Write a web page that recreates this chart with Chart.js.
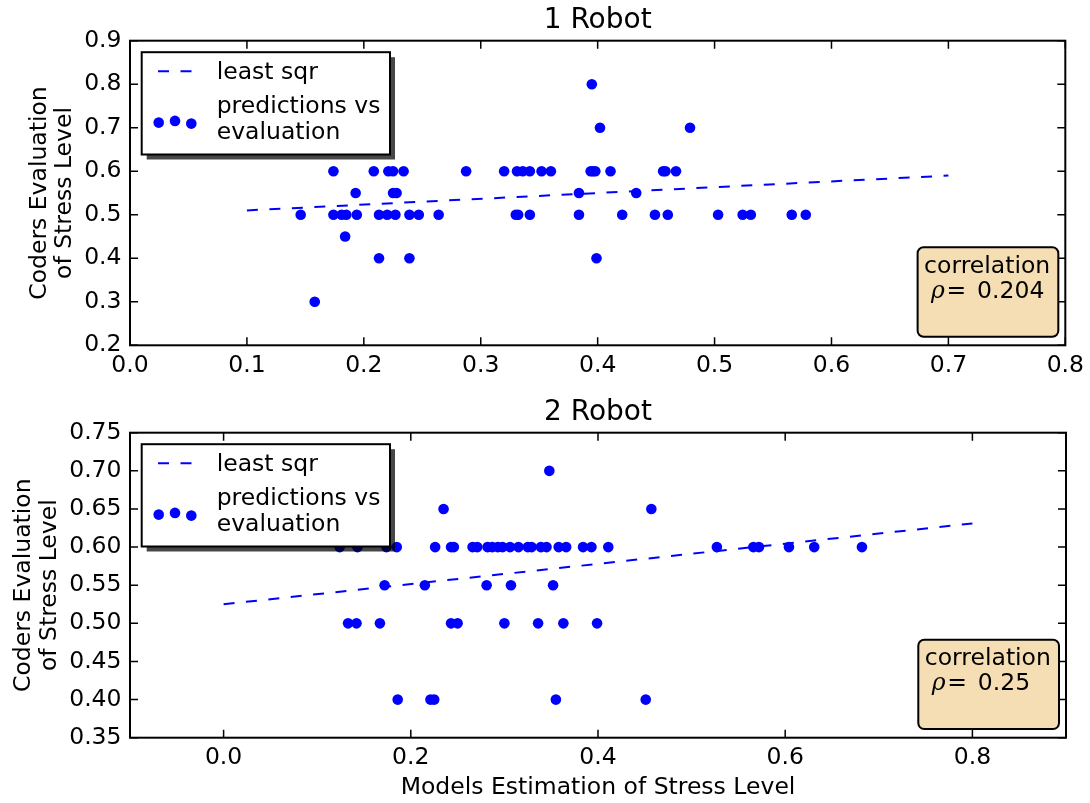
<!DOCTYPE html>
<html>
<head>
<meta charset="utf-8">
<script src="https://cdn.jsdelivr.net/npm/chart.js@4.4.1/dist/chart.umd.min.js"></script>
<style>
  html, body { margin: 0; padding: 0; background: #fff; }
  #wrap { position: relative; width: 1090px; height: 803px; background: #fff; }
  #c1 { position: absolute; left: 0; top: 0; }
  #c2 { position: absolute; left: 0; top: 392px; }
</style>
</head>
<body>
<div id="wrap">
  <canvas id="c1" width="1090" height="392"></canvas>
  <canvas id="c2" width="1090" height="411"></canvas>
</div>
<script>
// ---- Robot 1: model estimate (x) vs coders' evaluation (y) ----
const robot1X = [
  0.395,
  0.402, 0.479,
  0.174, 0.2085, 0.221, 0.225, 0.234, 0.2875, 0.320, 0.331, 0.336, 0.342, 0.352, 0.360, 0.394, 0.396, 0.398, 0.411, 0.456, 0.458, 0.467,
  0.193, 0.225, 0.228, 0.384, 0.433,
  0.146, 0.174, 0.181, 0.185, 0.194, 0.213, 0.220, 0.227, 0.239, 0.247, 0.264, 0.330, 0.332, 0.342, 0.384, 0.421, 0.449, 0.460, 0.503, 0.524, 0.531, 0.566, 0.578,
  0.184,
  0.213, 0.239, 0.399,
  0.158
];
const robot1Y = [
  0.8,
  0.7, 0.7,
  0.6, 0.6, 0.6, 0.6, 0.6, 0.6, 0.6, 0.6, 0.6, 0.6, 0.6, 0.6, 0.6, 0.6, 0.6, 0.6, 0.6, 0.6, 0.6,
  0.55, 0.55, 0.55, 0.55, 0.55,
  0.5, 0.5, 0.5, 0.5, 0.5, 0.5, 0.5, 0.5, 0.5, 0.5, 0.5, 0.5, 0.5, 0.5, 0.5, 0.5, 0.5, 0.5, 0.5, 0.5, 0.5, 0.5, 0.5,
  0.45,
  0.4, 0.4, 0.4,
  0.3
];
const robot1FitX = [0.1, 0.7];
const robot1FitY = [0.510, 0.590];
const robot1Rho = '0.204';
const robot1XTicks = [0.0, 0.1, 0.2, 0.3, 0.4, 0.5, 0.6, 0.7, 0.8];
const robot1YTicks = [0.2, 0.3, 0.4, 0.5, 0.6, 0.7, 0.8, 0.9];

// ---- Robot 2 ----
const robot2X = [
  0.348,
  0.235, 0.457,
  0.124, 0.143, 0.174, 0.185, 0.226, 0.243, 0.246, 0.266, 0.271, 0.282, 0.287, 0.293, 0.298, 0.306, 0.315, 0.325, 0.329, 0.339, 0.345, 0.358, 0.366, 0.384, 0.393, 0.411, 0.527, 0.566, 0.572, 0.604, 0.631, 0.682,
  0.172, 0.215, 0.281, 0.307, 0.352,
  0.133, 0.142, 0.167, 0.243, 0.250, 0.300, 0.336, 0.363, 0.399,
  0.186, 0.221, 0.225, 0.355, 0.451
];
const robot2Y = [
  0.7,
  0.65, 0.65,
  0.6, 0.6, 0.6, 0.6, 0.6, 0.6, 0.6, 0.6, 0.6, 0.6, 0.6, 0.6, 0.6, 0.6, 0.6, 0.6, 0.6, 0.6, 0.6, 0.6, 0.6, 0.6, 0.6, 0.6, 0.6, 0.6, 0.6, 0.6, 0.6, 0.6,
  0.55, 0.55, 0.55, 0.55, 0.55,
  0.5, 0.5, 0.5, 0.5, 0.5, 0.5, 0.5, 0.5, 0.5,
  0.4, 0.4, 0.4, 0.4, 0.4
];
const robot2FitX = [0.0, 0.8];
const robot2FitY = [0.525, 0.631];
const robot2Rho = '0.25';
const robot2XTicks = [0.0, 0.2, 0.4, 0.6, 0.8];
const robot2YTicks = [0.35, 0.40, 0.45, 0.50, 0.55, 0.60, 0.65, 0.70, 0.75];

const BLUE = '#0000ff';
const FONT = 'DejaVu Sans';
const FS = 23.5;
Chart.defaults.font.family = FONT;
Chart.defaults.font.size = FS;
Chart.defaults.color = '#000';

const toPoints = (xs, ys) => xs.map((x, i) => ({ x: x, y: ys[i] }));

// Frame, inward ticks, shadowed legend and the correlation box
const decor = {
  id: 'decor',
  beforeDraw(chart) {
    const ctx = chart.ctx;
    ctx.save();
    ctx.fillStyle = '#fff';
    ctx.fillRect(0, 0, chart.width, chart.height);
    ctx.restore();
  },
  afterDraw(chart, args, opts) {
    const ctx = chart.ctx;
    const a = chart.chartArea;
    const xs = chart.scales.x, ys = chart.scales.y;
    ctx.save();

    // inward tick marks on all four sides
    ctx.strokeStyle = '#000';
    ctx.lineWidth = 1.5;
    ctx.beginPath();
    xs.ticks.forEach(t => {
      const px = xs.getPixelForValue(t.value);
      ctx.moveTo(px, a.bottom); ctx.lineTo(px, a.bottom - 8);
      ctx.moveTo(px, a.top); ctx.lineTo(px, a.top + 8);
    });
    ys.ticks.forEach(t => {
      const py = ys.getPixelForValue(t.value);
      ctx.moveTo(a.left, py); ctx.lineTo(a.left + 8, py);
      ctx.moveTo(a.right, py); ctx.lineTo(a.right - 8, py);
    });
    ctx.stroke();

    // axes frame
    ctx.lineWidth = 2;
    ctx.strokeRect(a.left, a.top, a.right - a.left, a.bottom - a.top);

    // legend with drop shadow
    const lx = a.left + 11.7, ly = a.top + 11.5, lw = 248.3, lh = 102.3;
    ctx.fillStyle = 'rgba(0,0,0,0.72)';
    ctx.fillRect(lx + 5, ly + 5, lw, lh);
    ctx.fillStyle = '#fff';
    ctx.fillRect(lx, ly, lw, lh);
    ctx.strokeStyle = '#000';
    ctx.lineWidth = 2;
    ctx.strokeRect(lx, ly, lw, lh);

    ctx.strokeStyle = BLUE;
    ctx.lineWidth = 2;
    ctx.setLineDash([11, 11.5]);
    ctx.beginPath();
    ctx.moveTo(lx + 16.3, ly + 19);
    ctx.lineTo(lx + 50.3, ly + 19);
    ctx.stroke();
    ctx.setLineDash([]);

    ctx.fillStyle = BLUE;
    [[17, 70.4], [33.3, 68.7], [49.6, 71.4]].forEach(([dx, dy]) => {
      ctx.beginPath();
      ctx.arc(lx + dx, ly + dy, 5.3, 0, Math.PI * 2);
      ctx.fill();
    });

    ctx.fillStyle = '#000';
    ctx.font = FS + 'px "' + FONT + '"';
    ctx.textAlign = 'left';
    ctx.textBaseline = 'alphabetic';
    ctx.fillText('least sqr', lx + 75, ly + 27);
    ctx.fillText('predictions vs', lx + 75, ly + 60.4);
    ctx.fillText('evaluation', lx + 75, ly + 87);

    // correlation annotation
    const bw = 140.7, bh = 89.4;
    const bx = a.right - 7 - bw, by = a.bottom - 98;
    ctx.beginPath();
    ctx.roundRect(bx, by, bw, bh, 6);
    ctx.fillStyle = '#f5deb3';
    ctx.fill();
    ctx.strokeStyle = '#000';
    ctx.lineWidth = 2;
    ctx.stroke();

    ctx.fillStyle = '#000';
    ctx.font = FS + 'px "' + FONT + '"';
    ctx.fillText('correlation', bx + 6.5, by + 25.4);
    ctx.font = 'italic ' + FS + 'px "DejaVu Serif"';
    ctx.fillText('\u03c1', bx + 13.5, by + 50.7);
    ctx.font = FS + 'px "DejaVu Serif"';
    ctx.fillText('=', bx + 29, by + 50.7);
    ctx.font = FS + 'px "' + FONT + '"';
    ctx.fillText(opts.rho, bx + 59.5, by + 50.7);

    ctx.restore();
  }
};

function makeChart(id, cfg) {
  return new Chart(document.getElementById(id), {
    type: 'scatter',
    data: {
      datasets: [
        {
          label: 'least sqr',
          data: toPoints(cfg.fitX, cfg.fitY),
          showLine: true,
          borderColor: BLUE,
          borderWidth: 2,
          borderDash: [11, 11.5],
          pointRadius: 0,
          fill: false
        },
        {
          label: 'predictions vs evaluation',
          data: toPoints(cfg.x, cfg.y),
          pointRadius: 5.3,
          pointBackgroundColor: BLUE,
          pointBorderWidth: 0,
          borderWidth: 0
        }
      ]
    },
    options: {
      responsive: false,
      animation: false,
      events: [],
      layout: { padding: { left: 0, right: 24, top: 0, bottom: 0 } },
      plugins: {
        legend: { display: false },
        tooltip: { enabled: false },
        title: {
          display: true,
          text: cfg.title,
          fullSize: false,
          font: { size: 28, weight: 'normal' },
          color: '#000',
          padding: { top: 4, bottom: 3.1 }
        },
        decor: { rho: cfg.rho }
      },
      scales: {
        x: {
          type: 'linear',
          min: cfg.xMin, max: cfg.xMax,
          grid: { display: false, drawTicks: false },
          border: { display: false },
          afterBuildTicks: s => { s.ticks = cfg.xTicks.map(v => ({ value: v })); },
          afterFit: s => { s.height = cfg.xAxisH; },
          ticks: {
            autoSkip: false, maxRotation: 0, padding: 6,
            callback: v => Number(v).toFixed(1)
          },
          title: {
            display: !!cfg.xTitle,
            text: cfg.xTitle || '',
            font: { size: FS },
            color: '#000',
            padding: { top: 0, bottom: 1.2 }
          }
        },
        y: {
          type: 'linear',
          min: cfg.yMin, max: cfg.yMax,
          grid: { display: false, drawTicks: false },
          border: { display: false },
          afterBuildTicks: s => { s.ticks = cfg.yTicks.map(v => ({ value: v })); },
          afterFit: s => { s.width = 130; },
          ticks: {
            autoSkip: false, padding: 8.5,
            callback: v => Number(v).toFixed(cfg.yDigits)
          },
          title: {
            display: true,
            text: ['Coders Evaluation', 'of Stress Level'],
            font: { size: FS, lineHeight: 1.1 },
            color: '#000',
            padding: { top: cfg.yTitlePad, bottom: 0 }
          }
        }
      }
    },
    plugins: [decor]
  });
}

makeChart('c1', {
  title: '1 Robot',
  x: robot1X, y: robot1Y, fitX: robot1FitX, fitY: robot1FitY, rho: robot1Rho,
  xMin: 0.0, xMax: 0.8, yMin: 0.2, yMax: 0.9,
  xTicks: robot1XTicks, yTicks: robot1YTicks, yDigits: 1,
  xAxisH: 46.7, yTitlePad: 26.5
});

makeChart('c2', {
  title: '2 Robot',
  x: robot2X, y: robot2Y, fitX: robot2FitX, fitY: robot2FitY, rho: robot2Rho,
  xMin: -0.1, xMax: 0.9, yMin: 0.35, yMax: 0.75,
  xTicks: robot2XTicks, yTicks: robot2YTicks, yDigits: 2,
  xAxisH: 65.3, yTitlePad: 11,
  xTitle: 'Models Estimation of Stress Level'
});
</script>
</body>
</html>
